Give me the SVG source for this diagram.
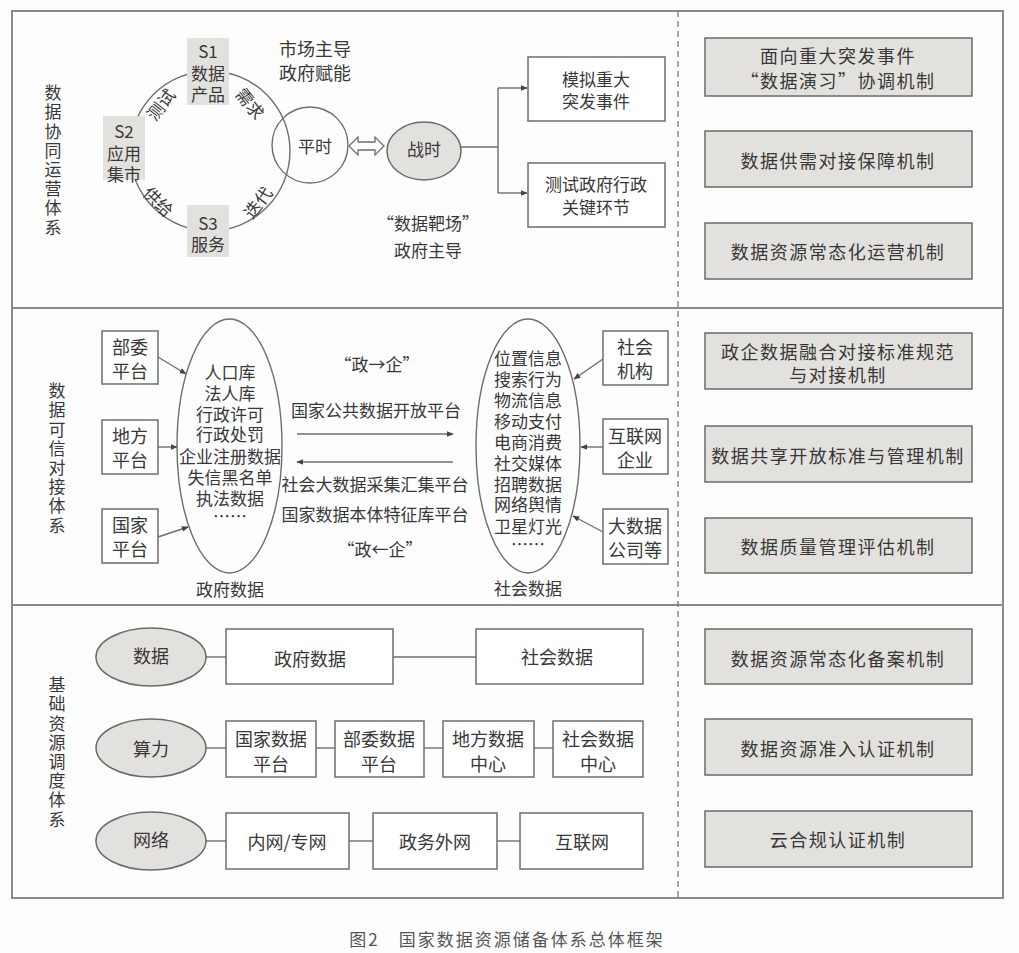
<svg xmlns="http://www.w3.org/2000/svg" width="1019" height="953" viewBox="0 0 1019 953">
<style>
text{font-family:"Noto Sans CJK SC","Noto Sans",sans-serif;fill:#383838;font-size:17px;text-anchor:middle;dominant-baseline:central}
.b{fill:#fff;stroke:#6e6e6e;stroke-width:1.5}
.g{fill:#e3e1de;stroke:#6a6a6a;stroke-width:1.5}
.gs{fill:#e3e1de;stroke:none}
.ln{fill:none;stroke:#6e6e6e;stroke-width:1.4}
.fr{fill:none;stroke:#8a8a8a;stroke-width:2}
.m{font-size:18px;letter-spacing:1.5px}
.t18{font-size:18px}
.v{font-size:17px;letter-spacing:2.2px;writing-mode:vertical-rl}
</style>
<defs>
<marker id="ah" viewBox="0 0 10 10" refX="9" refY="5" markerWidth="7" markerHeight="7" orient="auto" markerUnits="userSpaceOnUse">
<path d="M0,1 L10,5 L0,9 Z" fill="#444"/>
</marker>
</defs>
<rect width="1019" height="953" fill="#fdfdfd"/>
<!-- frame -->
<g id="frame">
<rect class="fr" x="12" y="11" width="991" height="887"/>
<line class="fr" x1="12" y1="308" x2="1003" y2="308"/>
<line class="fr" x1="12" y1="605" x2="1003" y2="605"/>
<line x1="678" y1="11" x2="678" y2="898" stroke="#777" stroke-width="1.3" stroke-dasharray="6,4"/>
</g>
<!-- section labels -->
<g id="label1"><text class="v" x="53" y="161">数据协同运营体系</text></g>
<g id="label2"><text class="v" x="57" y="459">数据可信对接体系</text></g>
<g id="label3"><text class="v" x="57" y="753">基础资源调度体系</text></g>

<!-- connectors -->
<g id="connectors">
<circle class="ln" cx="210" cy="151" r="80"/>
<polygon points="349,146 358,137 358,142 375,142 375,137 384,146 375,155 375,150 358,150 358,155" fill="#fff" stroke="#6e6e6e" stroke-width="1.3"/>
<polyline class="ln" points="461,147 498,147"/>
<line class="ln" x1="498" y1="88" x2="498" y2="193"/>
<line class="ln" x1="498" y1="88" x2="527" y2="88" marker-end="url(#ah)"/>
<line class="ln" x1="498" y1="193" x2="527" y2="193" marker-end="url(#ah)"/>
<line class="ln" x1="158" y1="357" x2="186" y2="374" marker-end="url(#ah)"/>
<line class="ln" x1="158" y1="447" x2="177" y2="447" marker-end="url(#ah)"/>
<line class="ln" x1="158" y1="537" x2="188" y2="527" marker-end="url(#ah)"/>
<line class="ln" x1="603" y1="359" x2="574" y2="379" marker-end="url(#ah)"/>
<line class="ln" x1="603" y1="447" x2="581" y2="447" marker-end="url(#ah)"/>
<line class="ln" x1="603" y1="532" x2="573" y2="516" marker-end="url(#ah)"/>
<line class="ln" x1="297" y1="434" x2="453" y2="434" marker-end="url(#ah)"/>
<line class="ln" x1="453" y1="462" x2="297" y2="462" marker-end="url(#ah)"/>
<line class="ln" x1="206" y1="657" x2="226" y2="657"/>
<line class="ln" x1="393" y1="657" x2="476" y2="657"/>
<line class="ln" x1="206" y1="748" x2="226" y2="748"/>
<line class="ln" x1="316" y1="748" x2="335" y2="748"/>
<line class="ln" x1="424" y1="748" x2="443" y2="748"/>
<line class="ln" x1="534" y1="748" x2="553" y2="748"/>
<line class="ln" x1="206" y1="841" x2="226" y2="841"/>
<line class="ln" x1="349" y1="841" x2="373" y2="841"/>
<line class="ln" x1="497" y1="841" x2="520" y2="841"/>
</g>

<!-- section 1 -->
<g id="arcLabels">
<text transform="translate(160,104) rotate(-52)" font-size="16">测试</text>
<text transform="translate(251,103) rotate(52)" font-size="16">需求</text>
<text transform="translate(159,201) rotate(45)" font-size="16">供给</text>
<text transform="translate(257,202) rotate(-52)" font-size="16">迭代</text>
</g>
<g id="s1"><rect class="gs" x="187" y="38" width="42" height="67"/><text x="208" y="50" font-size="16">S1</text><text x="208" y="72" font-size="16">数据</text><text x="208" y="93" font-size="16">产品</text></g>
<g id="s2"><rect class="gs" x="103" y="116" width="42" height="64"/><text x="124" y="130" font-size="16">S2</text><text x="124" y="152" font-size="16">应用</text><text x="124" y="173" font-size="16">集市</text></g>
<g id="s3"><rect class="gs" x="187" y="205" width="42" height="52"/><text x="208" y="222" font-size="16">S3</text><text x="208" y="243" font-size="16">服务</text></g>
<g id="pingshi"><circle cx="310" cy="145" r="38" fill="none" stroke="#6e6e6e" stroke-width="1.4"/><text x="315" y="145">平时</text></g>
<g id="zhanshi"><ellipse class="g" cx="424" cy="151" rx="37" ry="29"/><text x="424" y="148">战时</text></g>
<g id="note1"><text x="315" y="48" class="t18">市场主导</text><text x="315" y="72" class="t18">政府赋能</text></g>
<g id="note2"><text x="428" y="222">“数据靶场”</text><text x="428" y="249">政府主导</text></g>
<g id="box_moni"><rect class="b" x="528" y="57" width="137" height="64"/><text x="596" y="78">模拟重大</text><text x="596" y="100">突发事件</text></g>
<g id="box_ceshi"><rect class="b" x="528" y="163" width="137" height="64"/><text x="596" y="183">测试政府行政</text><text x="596" y="206">关键环节</text></g>
<g id="m1"><rect class="g" x="705" y="38" width="267" height="58"/><text x="838" y="55" class="m">面向重大突发事件</text><text x="838" y="80" class="m">“数据演习”协调机制</text></g>
<g id="m2"><rect class="g" x="705" y="131" width="267" height="56"/><text x="838" y="160" class="m">数据供需对接保障机制</text></g>
<g id="m3"><rect class="g" x="705" y="223" width="267" height="56"/><text x="838" y="251" class="m">数据资源常态化运营机制</text></g>

<!-- section 2 -->
<g id="bw"><rect class="b" x="102" y="331" width="56" height="53"/><text x="130" y="346" class="t18">部委</text><text x="130" y="370" class="t18">平台</text></g>
<g id="df"><rect class="b" x="102" y="420" width="56" height="54"/><text x="130" y="435" class="t18">地方</text><text x="130" y="459" class="t18">平台</text></g>
<g id="gj"><rect class="b" x="102" y="509" width="56" height="54"/><text x="130" y="524" class="t18">国家</text><text x="130" y="548" class="t18">平台</text></g>
<g id="govData"><ellipse cx="229.5" cy="446" rx="52.5" ry="127" fill="none" stroke="#6e6e6e" stroke-width="1.4"/>
<text x="230" y="371">人口库</text><text x="230" y="392">法人库</text><text x="230" y="413">行政许可</text><text x="230" y="433">行政处罚</text><text x="230" y="455">企业注册数据</text><text x="230" y="476">失信黑名单</text><text x="230" y="497">执法数据</text><text x="230" y="515">……</text>
<text x="230" y="588">政府数据</text></g>
<g id="mid"><text x="377" y="363">“政→企”</text><text x="376" y="409">国家公共数据开放平台</text><text x="375" y="483">社会大数据采集汇集平台</text><text x="375" y="513">国家数据本体特征库平台</text><text x="380" y="548">“政←企”</text></g>
<g id="socData"><ellipse cx="528" cy="446" rx="52" ry="127" fill="none" stroke="#6e6e6e" stroke-width="1.4"/>
<text x="528" y="357">位置信息</text><text x="528" y="378">搜索行为</text><text x="528" y="399">物流信息</text><text x="528" y="420">移动支付</text><text x="528" y="441">电商消费</text><text x="528" y="462">社交媒体</text><text x="528" y="483">招聘数据</text><text x="528" y="503">网络舆情</text><text x="528" y="525">卫星灯光</text><text x="528" y="543">……</text>
<text x="528" y="587">社会数据</text></g>
<g id="shjg"><rect class="b" x="603" y="331" width="65" height="54"/><text x="635" y="346" class="t18">社会</text><text x="635" y="370" class="t18">机构</text></g>
<g id="hlw"><rect class="b" x="603" y="419" width="65" height="55"/><text x="635" y="435" class="t18">互联网</text><text x="635" y="459" class="t18">企业</text></g>
<g id="dsj"><rect class="b" x="603" y="509" width="65" height="55"/><text x="635" y="525" class="t18">大数据</text><text x="635" y="549" class="t18">公司等</text></g>
<g id="m4"><rect class="g" x="705" y="333" width="267" height="56"/><text x="838" y="351" class="m">政企数据融合对接标准规范</text><text x="838" y="374" class="m">与对接机制</text></g>
<g id="m5"><rect class="g" x="705" y="426" width="267" height="56"/><text x="838" y="455" class="m">数据共享开放标准与管理机制</text></g>
<g id="m6"><rect class="g" x="705" y="518" width="267" height="55"/><text x="838" y="546" class="m">数据质量管理评估机制</text></g>

<!-- section 3 -->
<g id="e_data"><ellipse class="g" cx="151" cy="657" rx="55" ry="29"/><text x="151" y="655" class="t18">数据</text></g>
<g id="e_calc"><ellipse class="g" cx="151" cy="748" rx="55" ry="29"/><text x="151" y="748" class="t18">算力</text></g>
<g id="e_net"><ellipse class="g" cx="151" cy="841" rx="55" ry="29"/><text x="151" y="839" class="t18">网络</text></g>
<g id="r1a"><rect class="b" x="226" y="629" width="167" height="55"/><text x="310" y="658" class="t18">政府数据</text></g>
<g id="r1b"><rect class="b" x="476" y="629" width="167" height="55"/><text x="557" y="656" class="t18">社会数据</text></g>
<g id="r2a"><rect class="b" x="226" y="721" width="90" height="56"/><text x="271" y="738" class="t18">国家数据</text><text x="271" y="763" class="t18">平台</text></g>
<g id="r2b"><rect class="b" x="335" y="721" width="89" height="56"/><text x="379" y="738" class="t18">部委数据</text><text x="379" y="763" class="t18">平台</text></g>
<g id="r2c"><rect class="b" x="443" y="721" width="91" height="56"/><text x="488" y="738" class="t18">地方数据</text><text x="488" y="763" class="t18">中心</text></g>
<g id="r2d"><rect class="b" x="553" y="721" width="90" height="56"/><text x="598" y="738" class="t18">社会数据</text><text x="598" y="763" class="t18">中心</text></g>
<g id="r3a"><rect class="b" x="226" y="813" width="123" height="56"/><text x="287" y="841" class="t18">内网/专网</text></g>
<g id="r3b"><rect class="b" x="373" y="813" width="124" height="56"/><text x="435" y="841" class="t18">政务外网</text></g>
<g id="r3c"><rect class="b" x="520" y="813" width="123" height="56"/><text x="582" y="841" class="t18">互联网</text></g>
<g id="m7"><rect class="g" x="705" y="629" width="267" height="55"/><text x="838" y="658" class="m">数据资源常态化备案机制</text></g>
<g id="m8"><rect class="g" x="705" y="719" width="267" height="56"/><text x="838" y="748" class="m">数据资源准入认证机制</text></g>
<g id="m9"><rect class="g" x="705" y="811" width="267" height="56"/><text x="838" y="839" class="m">云合规认证机制</text></g>

<g id="caption"><text x="507" y="938" font-size="17" letter-spacing="2" style="fill:#555">图2　国家数据资源储备体系总体框架</text></g>
</svg>
